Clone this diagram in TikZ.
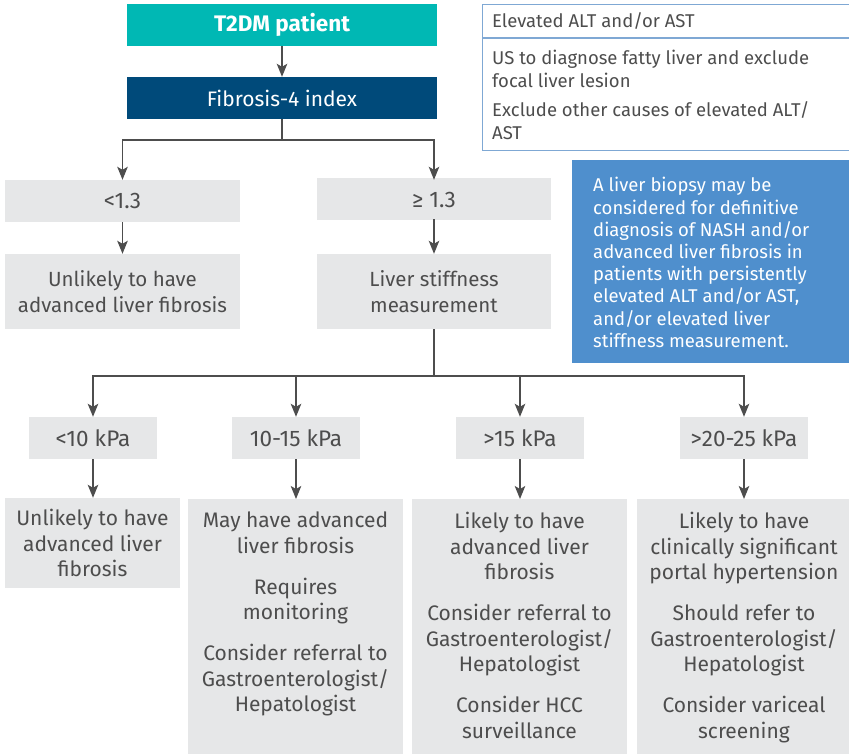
\documentclass[tikz,border=0pt]{standalone}
\usepackage{fontspec}
\setmainfont{Fira Sans}
\usetikzlibrary{arrows.meta}
\definecolor{tealc}{HTML}{00B8B4}
\definecolor{navyc}{HTML}{004A7A}
\definecolor{boxg}{HTML}{E6E7E8}
\definecolor{txtg}{HTML}{4D4D4D}
\definecolor{lblue}{HTML}{7FA8D4}
\definecolor{bbox}{HTML}{4F8FCD}
\begin{document}
\begin{tikzpicture}[x=1pt,y=-1pt,
  gbox/.style={fill=boxg, draw=none, inner sep=0pt, text=txtg, align=center,
    font=\fontsize{20.5}{25.5}\selectfont},
  kbox/.style={gbox, minimum width=128, minimum height=42, font=\fontsize{22.5}{25}\selectfont},
  gtxt/.style={inner sep=0pt, text=txtg, align=center, font=\fontsize{21}{25.5}\selectfont},
  conn/.style={draw=txtg, line width=1.4pt},
  arr/.style={conn, -{Stealth[length=13pt,width=10.5pt,inset=3pt]}},
  smtxt/.style={inner sep=0pt, text=txtg, align=left, anchor=west, font=\fontsize{18.5}{23}\selectfont}]
\useasboundingbox (0,0) rectangle (849,754);

% top boxes
\node[fill=tealc, text=white, minimum width=310, minimum height=42, inner sep=0pt,
  font=\fontsize{22.5}{26}\selectfont\bfseries] (t2dm) at (282,25) {T2DM patient};
\node[fill=navyc, text=white, minimum width=310, minimum height=42, inner sep=0pt,
  font=\fontsize{21}{25}\selectfont] (fib4) at (282,98) {Fibrosis-4 index};

% FIB-4 branches
\node[gbox, minimum width=235, minimum height=42, font=\fontsize{22.5}{25}\selectfont] (lo) at (122.5,201) {<1.3};
\node[gbox, minimum width=234, minimum height=42, font=\fontsize{22.5}{25}\selectfont] (hi) at (434,199.5) {≥ 1.3};
\node[gbox, minimum width=235, minimum height=75] (lo2) at (122.5,291.5) {Unlikely to have\\advanced liver fibrosis};
\node[gbox, minimum width=234, minimum height=75] (lsm) at (434,291.5) {Liver stiffness\\measurement};

% kPa boxes
\node[kbox] (k1) at (93,438) {<10 kPa};
\node[kbox] (k2) at (296,438) {10-15 kPa};
\node[kbox] (k3) at (520,438) {>15 kPa};
\node[kbox] (k4) at (744,438) {>20-25 kPa};

% result boxes
\node[gbox, minimum width=175, minimum height=90, font=\fontsize{21}{25.5}\selectfont] (r1) at (92.5,543) {Unlikely to have\\advanced liver\\fibrosis};
\node[gbox, minimum width=215, minimum height=257, anchor=north] (r2) at (295.5,499) {};
\node[gbox, minimum width=215, minimum height=257, anchor=north] (r3) at (519.5,499) {};
\node[gbox, minimum width=214, minimum height=257, anchor=north] (r4) at (744,499) {};

\node[gtxt, anchor=north] (r2t) at ([yshift=-13pt]r2.north) {May have advanced\\liver fibrosis\\[15.5pt]Requires\\monitoring\\[15.5pt]Consider referral to\\Gastroenterologist/\\Hepatologist};
\node[gtxt, anchor=north] (r3t) at ([yshift=-13pt]r3.north) {Likely to have\\advanced liver\\fibrosis\\[15.5pt]Consider referral to\\Gastroenterologist/\\Hepatologist\\[15.5pt]Consider HCC\\surveillance};
\node[gtxt, anchor=north] (r4t) at ([yshift=-13pt]r4.north) {Likely to have\\clinically significant\\portal hypertension\\[15.5pt]Should refer to\\Gastroenterologist/\\Hepatologist\\[15.5pt]Consider variceal\\screening};

% info box
\node[draw=lblue, line width=1.2pt, minimum width=369, minimum height=146, inner sep=0pt, anchor=north west] (info) at (482,4) {};
\draw[draw=lblue, line width=1.2pt] (482,38) -- (851,38);
\node[smtxt] (i1) at (492,21) {Elevated ALT and/or AST};
\node[smtxt] (i2) at (492,68.5) {US to diagnose fatty liver and exclude\\focal liver lesion};
\node[smtxt] (i3) at (492,121) {Exclude other causes of elevated ALT/\\AST};

% biopsy box
\node[fill=bbox, minimum width=279, minimum height=203, inner sep=0pt, anchor=north west] (bx) at (572,160) {};
\node[inner sep=0pt, text=white, align=left, anchor=west, font=\fontsize{18.5}{22.2}\selectfont] (bxt) at (593,262.5)
 {A liver biopsy may be\\considered for definitive\\diagnosis of NASH and/or\\advanced liver fibrosis in\\patients with persistently\\elevated ALT and/or AST,\\and/or elevated liver\\stiffness measurement.};

% connectors
\draw[arr] (t2dm) -- (fib4);
\coordinate (s1) at (282,140);
\draw[conn] (fib4.south) -- (s1);
\draw[arr] (s1) -| (lo.north);
\draw[arr] (s1) -| ([yshift=-1.5pt]hi.north);
\draw[arr] (lo) -- (lo2);
\draw[arr] ([yshift=1.5pt]hi.south) -- (lsm);
\coordinate (s2) at (434,376);
\draw[conn] (lsm.south) -- (s2);
\draw[arr] (s2) -| (k1.north);
\draw[arr] (s2) -| (k2.north);
\draw[arr] (s2) -| (k3.north);
\draw[arr] (s2) -| (k4.north);
\draw[arr] (k1.south) -- (k1.south |- r1.north);
\draw[arr] (k2.south) -- (k2.south |- r2.north);
\draw[arr] (k3.south) -- (k3.south |- r3.north);
\draw[arr] (k4.south) -- (k4.south |- r4.north);
\end{tikzpicture}
\end{document}
